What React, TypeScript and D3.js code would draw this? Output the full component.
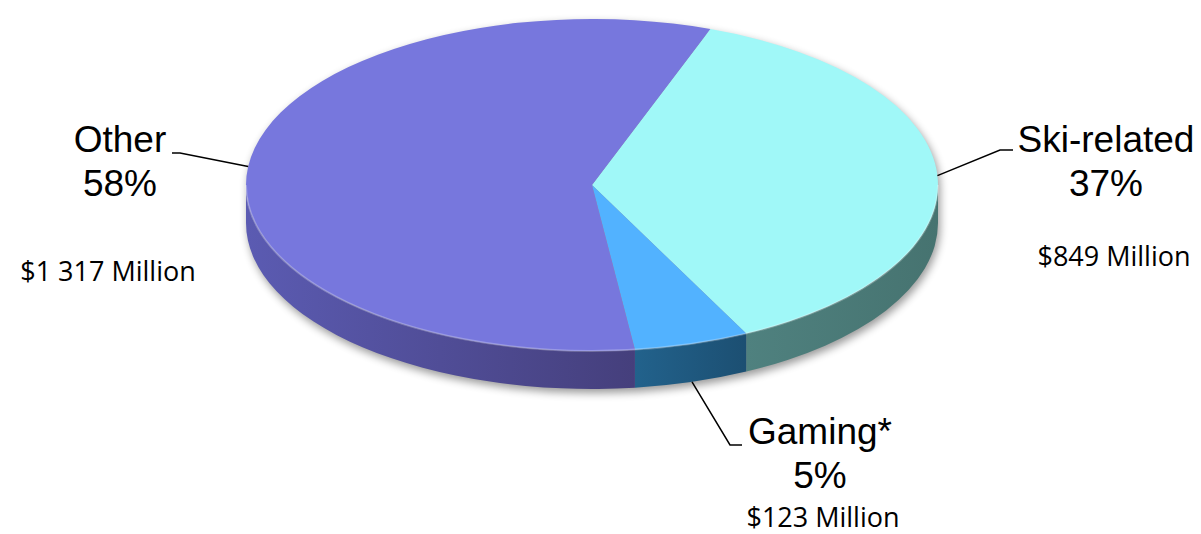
import React from "react";
import * as d3 from "d3";

const categories = ["Ski-related", "Gaming*", "Other"];
const values = [849, 123, 1317];
const percentLabels = ["37%", "5%", "58%"];
const amountLabels = ["$849 Million", "$123 Million", "$1 317 Million"];

const WIDTH = 1201;
const HEIGHT = 534;
const CX = 592;
const CY = 185;
const RX = 346;
const RY = 166;
const DEPTH = 38;
const START = (20 * Math.PI) / 180;

const TOP_COLORS = ["#a0f8f8", "#52b2ff", "#7777dd"];
const SIDE_COLORS = [
  ["#4f817f", "#467370"],
  ["#22628c", "#1c4f72"],
  ["#5b5bb2", "#453f7c"],
];

// label placement (text anchor point + leader elbow) per slice
const LABEL_POS = [
  { x: 1106, y: 152, elbow: [1000, 150], end: [1013, 150], amtX: 1114, amtY: 266 },
  { x: 820, y: 444, elbow: [730, 445], end: [742, 445], amtX: 823, amtY: 527 },
  { x: 120, y: 152, elbow: [180, 153], end: [172, 153], amtX: 108, amtY: 281 },
];

const pt = (t: number, dy = 0): [number, number] => [
  CX + RX * Math.sin(t),
  CY - RY * Math.cos(t) + dy,
];

const App = () => {
  const arcs = d3
    .pie<number>()
    .sort(null)
    .startAngle(START)
    .endAngle(START + 2 * Math.PI)(values);

  const topPath = (a0: number, a1: number) => {
    const p0 = pt(a0);
    const p1 = pt(a1);
    const large = a1 - a0 > Math.PI ? 1 : 0;
    return `M${CX},${CY}L${p0[0]},${p0[1]}A${RX},${RY} 0 ${large} 1 ${p1[0]},${p1[1]}Z`;
  };

  // front side of a slice, clipped to the visible half (90deg..270deg)
  const sidePath = (a0: number, a1: number) => {
    const segs: [number, number][] = [];
    for (const off of [0, 2 * Math.PI]) {
      const s = Math.max(a0, Math.PI / 2 + off);
      const e = Math.min(a1, (3 * Math.PI) / 2 + off);
      if (e > s) segs.push([s, e]);
    }
    return segs.map(([s, e]) => {
      const p0 = pt(s);
      const p1 = pt(e);
      const q1 = pt(e, DEPTH);
      const q0 = pt(s, DEPTH);
      return `M${p0[0]},${p0[1]}A${RX},${RY} 0 0 1 ${p1[0]},${p1[1]}L${q1[0]},${q1[1]}A${RX},${RY} 0 0 0 ${q0[0]},${q0[1]}Z`;
    });
  };

  const silhouette = (() => {
    const l = pt(-Math.PI / 2);
    const r = pt(Math.PI / 2);
    const lb = pt(-Math.PI / 2, DEPTH);
    const rb = pt(Math.PI / 2, DEPTH);
    return `M${l[0]},${l[1]}A${RX},${RY} 0 0 1 ${r[0]},${r[1]}L${rb[0]},${rb[1]}A${RX},${RY} 0 0 1 ${lb[0]},${lb[1]}Z`;
  })();

  const rimL = pt(Math.PI / 2);
  const rimR = pt((3 * Math.PI) / 2);

  return (
    <svg
      width={WIDTH}
      height={HEIGHT}
      style={{ position: "absolute", left: 0, top: 0, background: "#fff" }}
    >
      <defs>
        <filter id="blur" x="-10%" y="-10%" width="120%" height="130%">
          <feGaussianBlur stdDeviation="4" />
        </filter>
        {SIDE_COLORS.map((c, i) => (
          <linearGradient key={i} id={`side${i}`} x1="0" x2="1" y1="0" y2="0">
            <stop offset="0%" stopColor={c[0]} />
            <stop offset="100%" stopColor={c[1]} />
          </linearGradient>
        ))}
      </defs>

      <path d={silhouette} fill="#000" opacity={0.4} filter="url(#blur)" transform="translate(2,4)" />

      {arcs.map((a, i) =>
        sidePath(a.startAngle, a.endAngle).map((d, j) => (
          <path key={`s${i}_${j}`} d={d} fill={`url(#side${i})`} />
        ))
      )}

      {arcs.map((a, i) => (
        <path key={`t${i}`} d={topPath(a.startAngle, a.endAngle)} fill={TOP_COLORS[i]} />
      ))}

      <path
        d={`M${rimL[0]},${rimL[1]}A${RX},${RY} 0 0 1 ${rimR[0]},${rimR[1]}`}
        fill="none"
        stroke="#fff"
        strokeOpacity={0.25}
        strokeWidth={2}
      />

      {arcs.map((a, i) => {
        const mid = (a.startAngle + a.endAngle) / 2;
        const m = ((mid % (2 * Math.PI)) + 2 * Math.PI) % (2 * Math.PI);
        const front = m > Math.PI / 2 && m < (3 * Math.PI) / 2 && Math.abs(Math.sin(m)) < 0.5;
        const anchor = pt(mid, front ? DEPTH : 0);
        const L = LABEL_POS[i];
        return (
          <g key={`l${i}`}>
            <polyline
              points={`${anchor[0]},${anchor[1]} ${L.elbow[0]},${L.elbow[1]} ${L.end[0]},${L.end[1]}`}
              fill="none"
              stroke="#000"
              strokeWidth={1.5}
            />
            <text
              x={L.x}
              y={L.y}
              textAnchor="middle"
              fontFamily="Liberation Sans, Arial, sans-serif"
              fontSize={37}
              fill="#000"
            >
              <tspan x={L.x}>{categories[i]}</tspan>
              <tspan x={L.x} dy={44}>{percentLabels[i]}</tspan>
            </text>
            <text
              x={L.amtX}
              y={L.amtY}
              textAnchor="middle"
              fontFamily="Open Sans, Noto Sans, sans-serif"
              fontSize={27}
              fill="#000"
            >
              {amountLabels[i]}
            </text>
          </g>
        );
      })}
    </svg>
  );
};

export default App;
